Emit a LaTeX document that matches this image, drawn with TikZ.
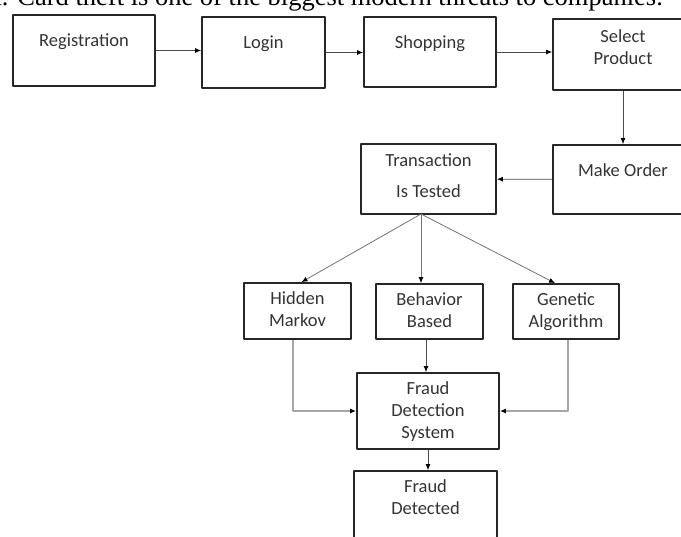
\documentclass[tikz,border=0pt]{standalone}
\usepackage{fontspec}
\setmainfont{Liberation Serif}
\newfontfamily\boxfont{Carlito}
\usetikzlibrary{arrows.meta}
\tikzset{
  blk/.style={draw=black!85, line width=1.8pt, inner sep=0pt},
  lbl/.style={anchor=north, align=center, inner sep=0pt, text=black!80,
    font=\boxfont\fontsize{18.5}{22}\selectfont},
  con/.style={draw=black!70, line width=0.8pt, -{Latex[length=6pt,width=5pt,black]}},
  fan/.style={draw=black!55, line width=0.8pt, -{Latex[length=6pt,width=5pt,black]}},
  side/.style={draw=black!35, line width=1.3pt, -{Latex[length=6pt,width=5pt,black]}}
}
\begin{document}
\begin{tikzpicture}[x=1pt,y=-1pt, line join=round]
    \useasboundingbox (0,0) rectangle (681,537);
    \clip (0,0) rectangle (681,537);
    % line of running text above the figure
    \node[anchor=base west, inner sep=0pt, font=\fontsize{26.5}{30}\selectfont] (head) at (-10,5.5) {a. Card theft is one of the biggest modern threats to companies.};
    % first row
    \node[blk, minimum width=142, minimum height=71, label={[lbl,yshift=-17pt]north:\strut Registration}] (reg) at (84,50.5) {};
    \node[blk, minimum width=123, minimum height=71, label={[lbl,yshift=-17pt]north:\strut Login}] (login) at (263.5,52.5) {};
    \node[blk, minimum width=132, minimum height=70, label={[lbl,yshift=-17pt]north:\strut Shopping}] (shop) at (430,52) {};
    \node[blk, minimum width=140, minimum height=71, label={[lbl,yshift=-9pt]north:\strut Select\\Product}] (sel) at (623,54.5) {};
    % second row
    \node[blk, minimum width=140, minimum height=69, label={[lbl,yshift=-17pt]north:\strut Make Order}] (make) at (623,179.5) {};
    \node[blk, minimum width=135, minimum height=70, label={[lbl,yshift=-8pt]north:\strut Transaction\\[9pt]Is Tested}] (trans) at (428.5,179) {};
    % methods
    \node[blk, minimum width=107, minimum height=56, label={[lbl,yshift=-7pt]north:\strut Hidden\\Markov}] (hmm) at (297.5,311) {};
    \node[blk, minimum width=107, minimum height=55, label={[lbl,yshift=-7pt]north:\strut Behavior\\Based}] (bb) at (429.5,311.5) {};
    \node[blk, minimum width=106, minimum height=55, label={[lbl,yshift=-7pt]north:\strut Genetic\\Algorithm}] (ga) at (566,311.5) {};
    % result
    \node[blk, minimum width=142, minimum height=76, label={[lbl,yshift=-7pt]north:\strut Fraud\\Detection\\System}] (fds) at (428,411) {};
    \node[blk, minimum width=143, minimum height=80, label={[lbl,yshift=-7pt]north:\strut Fraud\\Detected}] (fd) at (425.5,511) {};
    \coordinate (fork) at (421,214);
    % connectors
    \draw[con] (reg.east) -- (login.west |- reg.east);
    \draw[con] (login.east) -- (shop.west |- login.east);
    \draw[con] (shop.east) -- (sel.west |- shop.east);
    \draw[con] (sel) -- (make);
    \draw[con] (make) -- (trans);
    \draw[fan] (fork) -- ([xshift=4pt]hmm.north);
    \draw[fan] (fork) -- (fork |- bb.north);
    \draw[fan] (fork) -- ([xshift=-11pt]ga.north);
    \draw[side] ([xshift=-4.5pt]hmm.south) |- (fds.west);
    \draw[con] ([xshift=-3.5pt]bb.south) -- ([xshift=-3.5pt]bb.south |- fds.north);
    \draw[side] ([xshift=2pt]ga.south) |- (fds.east);
    \draw[con] (fds.south) -- (fds.south |- fd.north);
\end{tikzpicture}
\end{document}
